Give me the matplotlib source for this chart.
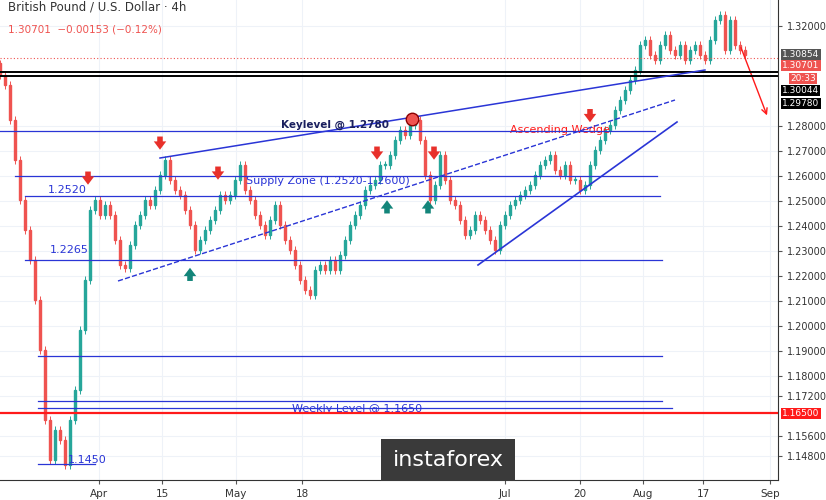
import matplotlib
matplotlib.use("Agg")
import matplotlib.pyplot as plt
from matplotlib.patches import Rectangle

closes = [1.3004,1.2964,1.2824,1.2664,1.2504,1.2384,1.2264,1.2104,1.1904,1.1624,1.1464,1.1584,1.1544,1.1444,1.1624,1.1744,1.1984,1.2184,1.2464,1.2504,1.2444,1.2484,1.2444,1.2344,1.2244,1.2232,1.2324,1.2404,1.2444,1.2504,1.2484,1.2544,1.2604,1.2664,1.2584,1.2544,1.2524,1.2464,1.2404,1.2304,1.2344,1.2384,1.2424,1.2464,1.2524,1.2504,1.2524,1.2584,1.2644,1.2544,1.2504,1.2444,1.2404,1.2364,1.2424,1.2484,1.2404,1.2344,1.2304,1.2244,1.2184,1.2144,1.2124,1.2224,1.2244,1.2224,1.2264,1.2224,1.2284,1.2344,1.2404,1.2444,1.2484,1.2544,1.2564,1.2584,1.2644,1.2644,1.2684,1.2744,1.2784,1.2764,1.2804,1.2824,1.2744,1.2604,1.2504,1.2564,1.2684,1.2584,1.2504,1.2484,1.2424,1.2364,1.2384,1.2444,1.2424,1.2384,1.2344,1.2304,1.2404,1.2444,1.2484,1.2504,1.2524,1.2544,1.2564,1.2604,1.2644,1.2664,1.2684,1.2624,1.2604,1.2644,1.2584,1.2584,1.2544,1.2564,1.2644,1.2704,1.2744,1.2784,1.2804,1.2864,1.2904,1.2944,1.2984,1.3024,1.3124,1.3144,1.3084,1.3064,1.3124,1.3164,1.3104,1.3084,1.3124,1.3064,1.3104,1.3124,1.3084,1.3064,1.3144,1.3224,1.3244,1.3104,1.3224,1.3124,1.3104,1.3084]
first_open = 1.3050
date_ticks = [99,162,236,302,505,580,643,703,770]
date_labels = ["Apr","15","May","18","Jul","20","Aug","17","Sep"]
price_ticks = [1.32,1.28,1.27,1.26,1.25,1.24,1.23,1.22,1.21,1.20,1.19,1.18,1.172,1.156,1.148]
levels = [(1.2780,0,655),(1.2600,15,657),(1.2520,25,660),(1.2265,25,662),(1.1880,38,662),(1.1700,38,662),(1.1670,38,672),(1.1450,38,95)]
down_marks = [(88,1.2584),(160,1.2724),(218,1.2604),(377,1.2684),(434,1.2684),(590,1.2834)]
up_marks = [(190,1.2214),(387,1.2484),(428,1.2484)]
right_labels = [("1.30854",1.3086,"#555555"),("1.30701",1.3042,"#ef5350"),("20:33",1.2990,"#ef5350"),("1.30044",1.2942,"black"),("1.29780",1.2890,"black"),("1.16500",1.1650,"#ff1a1a")]

W,H = 826,500
fig = plt.figure(figsize=(W/100,H/100),dpi=100)
ax = fig.add_axes([0,20/H,778/W,480/H])
ax.set_xlim(0,778); ax.set_ylim(1.1384,1.3304)
for x in date_ticks: ax.axvline(x,color="#eef2f8",lw=0.8,zorder=0)
for p in price_ticks: ax.axhline(p,color="#eef2f8",lw=0.8,zorder=0)

prev = first_open
for i,c in enumerate(closes):
    x = i*5
    col = "#26a69a" if c >= prev else "#ef5350"
    ax.vlines(x,min(prev,c)-0.0015,max(prev,c)+0.0015,color=col,lw=0.7,zorder=2)
    ax.add_patch(Rectangle((x-1.2,min(prev,c)),2.4,max(abs(c-prev),0.0004),color=col,zorder=3))
    prev = c

for p,x0,x1 in levels:
    ax.plot([x0,x1],[p,p],color="#2a35d6",lw=0.9,zorder=4)
ax.axhline(1.1650,color="#ff1a1a",lw=1.6,zorder=4)
ax.axhline(1.3016,color="black",lw=1.4,zorder=4)
ax.axhline(1.3000,color="black",lw=1.4,zorder=4)
ax.axhline(1.30701,color="#ef5350",lw=0.8,ls=(0,(1,2)),zorder=4)
ax.plot([160,705],[1.2672,1.3024],color="#2a35d6",lw=1.1,zorder=4)
ax.plot([118,675],[1.2180,1.2904],color="#2a35d6",lw=1.0,ls="--",zorder=4)
ax.plot([478,677],[1.2244,1.2816],color="#2a35d6",lw=1.2,zorder=4)
ax.annotate("",xy=(768,1.2832),xytext=(740,1.3124),arrowprops=dict(arrowstyle="->",color="#ff1a1a",lw=1))
ax.plot([412],[1.2828],marker="o",ms=9,mfc="#ef5350",mec="#8b0000",zorder=5)

arrow = dict(arrowstyle="simple,head_width=0.9,head_length=0.6,tail_width=0.4")
for x,y in down_marks:
    ax.annotate("",xy=(x,y-0.003),xytext=(x,y+0.0045),arrowprops=dict(arrow,color="#e8302a",lw=0),zorder=6)
for x,y in up_marks:
    ax.annotate("",xy=(x,y+0.003),xytext=(x,y-0.0045),arrowprops=dict(arrow,color="#13857a",lw=0),zorder=6)

ax.text(335,1.2786,"Keylevel @ 1.2780",color="#1a1f5e",fontsize=7.5,fontweight="bold",ha="center",va="bottom",zorder=6)
ax.text(328,1.2580,"Supply Zone (1.2520-1.2600)",color="#2a35d6",fontsize=8,ha="center",va="center",zorder=6)
ax.text(48,1.2545,"1.2520",color="#2a35d6",fontsize=8,ha="left",va="center")
ax.text(50,1.2304,"1.2265",color="#2a35d6",fontsize=8,ha="left",va="center")
ax.text(357,1.1668,"Weekly Level @ 1.1650",color="#2a35d6",fontsize=8,ha="center",va="center")
ax.text(68,1.1462,"1.1450",color="#2a35d6",fontsize=8,ha="left",va="center")
ax.text(560,1.2784,"Ascending Wedge",color="#ff1a1a",fontsize=8,ha="center",va="center")
ax.text(8,1.3274,"British Pound / U.S. Dollar · 4h",fontsize=8.5,color="#333",va="center")
ax.text(8,1.3184,"1.30701  −0.00153 (−0.12%)",fontsize=7.5,color="#ef5350",va="center")
ax.text(448,1.1384+20/2500,"instaforex",fontsize=16,color="white",ha="center",va="center",
        bbox=dict(boxstyle="square,pad=0.5",fc="#3a3a3a",ec="none"),zorder=7)

ax.set_xticks(date_ticks); ax.set_xticklabels(date_labels,fontsize=7.5,color="#333")
ax.yaxis.tick_right()
ax.set_yticks(price_ticks); ax.set_yticklabels([f"{p:.5f}" for p in price_ticks],fontsize=7,color="#333")
ax.tick_params(length=3,color="#555")
for s in ["top","left"]: ax.spines[s].set_visible(False)
for s in ["right","bottom"]: ax.spines[s].set_color("#333")

for txt,p,fc in right_labels:
    ax.text(782 if txt!="20:33" else 790,p,txt,fontsize=6.5,color="white",va="center",ha="left",clip_on=False,
            bbox=dict(boxstyle="square,pad=0.15",fc=fc,ec="none"),zorder=8)
fig.savefig("out.png",dpi=100)
